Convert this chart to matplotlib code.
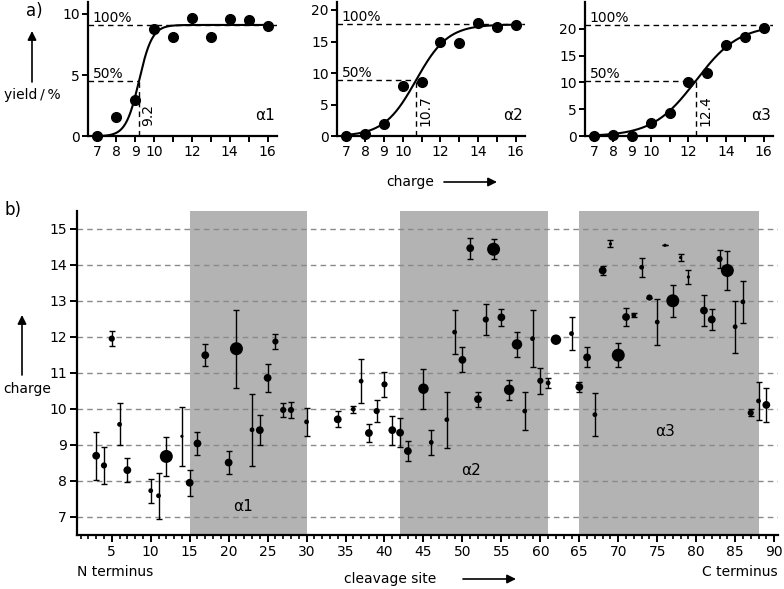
import numpy as np
import matplotlib.pyplot as plt
from matplotlib.ticker import MultipleLocator

plt.rcParams['font.family'] = ['DejaVu Sans']
plt.rcParams['font.size'] = 10

# a) yield vs. charge state for the three helices
charge = [7, 8, 9, 10, 11, 12, 13, 14, 15, 16]
yield_a1 = [0, 1.55, 2.95, 8.8, 8.1, 9.7, 8.1, 9.6, 9.5, 9.05]
yield_a2 = [0, 0.35, 1.9, 7.95, 8.55, 14.95, 14.7, 17.95, 17.35, 17.55]
yield_a3 = [0, 0.25, 0, 2.4, 4.25, 10.1, 11.75, 17.05, 18.5, 20.1]
# sigmoid fits: plateau, midpoint, width
fit_a1 = (9.1, 9.2, 0.35)
fit_a2 = (17.7, 10.7, 0.85)
fit_a3 = (20.7, 12.4, 1.15)
helix_names = ['\u03b11', '\u03b12', '\u03b13']

# b) mean charge per cleavage site
site = [3, 4, 5, 6, 7, 10, 11, 12, 14, 15, 16, 17, 20, 21, 23, 24, 25, 26, 27, 28,
        30, 34, 36, 37, 38, 39, 40, 41, 42, 43, 45, 46, 48, 49, 50, 51, 52, 53, 54, 55,
        56, 57, 58, 59, 60, 61, 62, 64, 65, 66, 67, 68, 69, 70, 71, 72, 73, 74, 75, 76,
        77, 78, 79, 81, 82, 83, 84, 85, 86, 87, 88, 89]
mean_charge = [8.70, 8.43, 11.95, 9.57, 8.30, 7.73, 7.59, 8.68, 9.24, 7.95, 9.04, 11.49, 8.51, 11.67, 9.42, 9.41, 10.86, 11.87, 9.97, 9.97,
               9.64, 9.71, 9.99, 10.77, 9.33, 9.94, 10.68, 9.41, 9.34, 8.83, 10.56, 9.07, 9.70, 12.13, 11.36, 14.46, 10.27, 12.48, 14.43, 12.54,
               10.53, 11.79, 9.94, 11.95, 10.78, 10.72, 11.92, 12.09, 10.61, 11.43, 9.84, 13.84, 14.58, 11.49, 12.55, 12.60, 13.93, 13.09, 12.41, 14.54,
               13.00, 14.20, 13.66, 12.73, 12.48, 14.16, 13.84, 12.28, 12.97, 9.89, 10.22, 10.11]
charge_err = [0.67, 0.51, 0.20, 0.58, 0.33, 0.33, 0.64, 0.53, 0.82, 0.36, 0.32, 0.30, 0.33, 1.08, 1.00, 0.42, 0.38, 0.22, 0.20, 0.22,
              0.38, 0.22, 0.10, 0.61, 0.26, 0.31, 0.34, 0.40, 0.41, 0.27, 0.56, 0.35, 0.78, 0.62, 0.35, 0.29, 0.21, 0.43, 0.28, 0.24,
              0.28, 0.35, 0.52, 0.79, 0.36, 0.15, 0.00, 0.46, 0.13, 0.28, 0.60, 0.12, 0.10, 0.34, 0.26, 0.06, 0.27, 0.00, 0.64, 0.00,
              0.44, 0.10, 0.20, 0.42, 0.30, 0.24, 0.53, 0.72, 0.59, 0.10, 0.53, 0.48]
# abundance class (1 = lowest ... 6 = highest)
abundance = [4, 3, 3, 2, 4, 2, 2, 6, 1, 4, 4, 4, 4, 6, 2, 4, 4, 3, 3, 3,
             2, 4, 2, 2, 4, 3, 3, 4, 4, 4, 5, 2, 2, 2, 4, 4, 4, 3, 6, 4,
             5, 5, 2, 2, 3, 2, 5, 2, 4, 4, 2, 4, 1, 6, 4, 2, 2, 3, 2, 1,
             6, 1, 1, 4, 4, 3, 6, 2, 2, 3, 2, 4]
helix_ranges = [(15, 30), (42, 61), (65, 88)]

fig = plt.figure(figsize=(7.84, 5.89), dpi=100)
W, H = 784, 589


def sigmoid(x, plateau, mid, width):
    return plateau / (1 + np.exp(-(x - mid) / width))


def fig_axes(x0, y0, x1, y1):
    # pixel box (top-left origin) -> figure fraction
    return fig.add_axes([x0 / W, 1 - y1 / H, (x1 - x0) / W, (y1 - y0) / H])


top_boxes = [(88, 1.7, 277, 136.3), (337, 1.7, 525, 136.3), (585, 1.7, 773, 136.3)]
yields = [yield_a1, yield_a2, yield_a3]
fits = [fit_a1, fit_a2, fit_a3]
ytops = [11, 21.3, 25]

for box, ys, fit, name, ytop in zip(top_boxes, yields, fits, helix_names, ytops):
    ax = fig_axes(*box)
    plateau, mid, width = fit
    xx = np.linspace(7, 16.2, 300)
    ax.plot(xx, sigmoid(xx, *fit), color='black', lw=1.5, zorder=3)
    ax.plot(charge, ys, 'o', color='black', ms=7, zorder=4, clip_on=False)
    dash = dict(color='black', lw=1, dashes=(4, 3), zorder=2)
    ax.plot([6.5, 16.5], [plateau, plateau], **dash)
    ax.plot([6.5, mid], [plateau / 2, plateau / 2], **dash)
    ax.plot([mid, mid], [0, plateau / 2], **dash)
    ax.text(6.75, plateau, '100%', ha='left', va='bottom', fontsize=10)
    ax.text(6.75, plateau / 2, '50%', ha='left', va='bottom', fontsize=10)
    ax.text(mid + 0.12, 0.08 * ytop, str(mid), rotation=90, ha='left', va='bottom', fontsize=10)
    ax.text(0.99, 0.1, name, transform=ax.transAxes, ha='right', va='bottom', fontsize=11)
    ax.set_xlim(6.5, 16.5)
    ax.set_ylim(0, ytop)
    ax.set_xticks(charge)
    ax.set_xticklabels([str(c) if c in (7, 8, 9, 10, 12, 14, 16) else '' for c in charge])
    ax.set_yticks(np.arange(0, ytop, 5))
    for s in ('top', 'right'):
        ax.spines[s].set_visible(False)
    for s in ('left', 'bottom'):
        ax.spines[s].set_linewidth(1.6)
    ax.tick_params(direction='out', length=4, width=1.4, labelsize=10, pad=2)

# b) panel
axb = fig_axes(76.7, 210.7, 778, 535)
for lo, hi in helix_ranges:
    axb.axvspan(lo, hi, color='#b3b3b3', lw=0, zorder=0)
for yv in range(7, 16):
    axb.axhline(yv, color='#8a8a8a', lw=1, dashes=(4, 3), zorder=1)
axb.errorbar(site, mean_charge, yerr=charge_err, fmt='none', ecolor='black',
             elinewidth=1, capsize=2.5, capthick=1, zorder=3)
diam_px = {1: 3.2, 2: 4.8, 3: 6.2, 4: 7.8, 5: 10.5, 6: 13}
sizes = [(diam_px[a] * 0.72) ** 2 for a in abundance]
axb.scatter(site, mean_charge, s=sizes, color='black', lw=0, zorder=4)
axb.text(21.8, 7.28, '\u03b11', ha='center', va='center', fontsize=11)
axb.text(51.1, 8.3, '\u03b12', ha='center', va='center', fontsize=11)
axb.text(76, 9.36, '\u03b13', ha='center', va='center', fontsize=11)
axb.set_xlim(0.5, 90.5)
axb.set_ylim(6.5, 15.5)
axb.xaxis.set_major_locator(MultipleLocator(5))
axb.xaxis.set_minor_locator(MultipleLocator(1))
axb.set_xticks(range(5, 91, 5))
axb.set_yticks(range(7, 16))
for s in ('top', 'right'):
    axb.spines[s].set_visible(False)
for s in ('left', 'bottom'):
    axb.spines[s].set_linewidth(1.6)
axb.tick_params(which='major', direction='out', length=5, width=1.4, labelsize=10, pad=2)
axb.tick_params(which='minor', direction='out', length=3, width=1.2)

# labels and arrows
arrow = dict(arrowstyle='-|>', color='black', lw=1.2, mutation_scale=13, shrinkA=0, shrinkB=0)


def fig_arrow(x0, y0, x1, y1):
    fig.add_artist(plt.Annotation('', xy=(x1, H - y1), xytext=(x0, H - y0),
                                  xycoords='figure pixels', textcoords='figure pixels',
                                  arrowprops=arrow))


def fig_text(x, y, s, **kw):
    fig.text(x / W, 1 - y / H, s, **kw)


fig_text(26, 11, 'a)', ha='left', va='center', fontsize=12)
fig_arrow(32, 82, 32, 31)
fig_text(32, 95, 'yield\u2009/\u2009%', ha='center', va='center', fontsize=10)
fig_text(410, 182, 'charge', ha='center', va='center', fontsize=10)
fig_arrow(444, 182, 497, 182)

fig_text(5, 210, 'b)', ha='left', va='center', fontsize=12)
fig_arrow(22, 375, 22, 315)
fig_text(3, 389, 'charge', ha='left', va='center', fontsize=10)
fig_text(390, 579, 'cleavage site', ha='center', va='center', fontsize=10)
fig_arrow(463, 579, 516, 579)
fig_text(77, 572, 'N terminus', ha='left', va='center', fontsize=10)
fig_text(778, 572, 'C terminus', ha='right', va='center', fontsize=10)

fig.savefig('out.png', dpi=100)
